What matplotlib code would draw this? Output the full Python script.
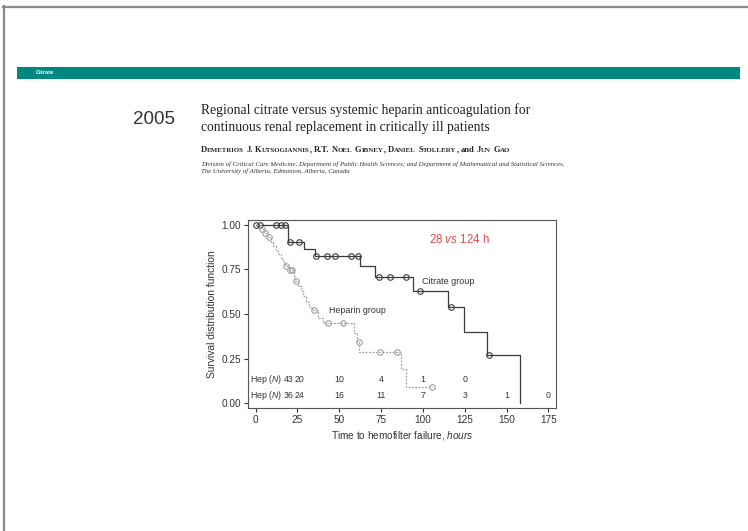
import numpy as np
import matplotlib
matplotlib.use("Agg")
import matplotlib.pyplot as plt
from matplotlib.lines import Line2D
from matplotlib.patches import Rectangle

# ---------------- data ----------------
cit_times = [0, 19.5, 29, 35.5, 62.6, 71.2, 94.3, 115.2, 124.8, 138.2, 158.1]
cit_surv = [1.0, 0.903, 0.865, 0.826, 0.77, 0.708, 0.631, 0.541, 0.40, 0.27, 0.0]
cit_censor = [0.0, 2.5, 12, 15, 17.5, 20.7, 25.9, 36, 42.8, 47.2, 56.8, 61.4,
              73.7, 80.3, 90.1, 98.3, 116.6, 139.7]

hep_times = [0, 3, 5, 7, 9, 10.5, 12, 13.5, 15, 16.5, 17.5, 20, 23, 23.5, 25.5,
             27, 28.5, 30, 32, 33.5, 37, 40, 58.5, 60.5, 62, 87, 90]
hep_surv = [1.0, 0.977, 0.953, 0.930, 0.907, 0.884, 0.860, 0.837, 0.814, 0.791,
            0.768, 0.745, 0.716, 0.687, 0.658, 0.628, 0.599, 0.570, 0.541,
            0.522, 0.48, 0.448, 0.395, 0.344, 0.287, 0.19, 0.092]
hep_censor = [4, 5.6, 8, 18, 20.5, 22, 24, 35, 43, 52, 61.6, 74.3, 84.7, 105.2]
hep_end = 105.2

risk_x_row1 = [19.8, 26.3, 50, 75, 100, 125]
risk_row1 = ["43", "20", "10", "4", "1", "0"]
risk_x_row2 = [19.8, 26.3, 50, 75, 100, 125, 150, 175]
risk_row2 = ["36", "24", "16", "11", "7", "3", "1", "0"]

xticks = [0, 25, 50, 75, 100, 125, 150, 175]
yticks = [0.0, 0.25, 0.5, 0.75, 1.0]

authors = "Demetrios J. Kutsogiannis, R.T. Noel Gibney, Daniel Stollery, and Jun Gao"

# ---------------- figure ----------------
W, H = 748, 531
plt.rcParams['font.family'] = ['Liberation Sans', 'DejaVu Sans']
plt.rcParams['mathtext.fontset'] = 'custom'
plt.rcParams['mathtext.rm'] = 'Liberation Sans'
plt.rcParams['mathtext.it'] = 'Liberation Sans:italic'

fig = plt.figure(figsize=(W / 100, H / 100), dpi=100)
fig.patch.set_facecolor('white')
renderer = fig.canvas.get_renderer()


def fx(px):
    return px / W


def fy(py):
    return 1 - py / H


# slide borders
fig.add_artist(Line2D([fx(3), fx(748)], [fy(6.5), fy(6.5)], color='#8a8a8a', lw=1.6))
fig.add_artist(Line2D([fx(4), fx(4)], [fy(6), fy(531)], color='#8a8a8a', lw=1.6))
# teal band
fig.add_artist(Rectangle((fx(17), fy(79)), fx(740) - fx(17), fy(67) - fy(79),
                         transform=fig.transFigure, color='#00877f', lw=0))
fig.text(fx(36), fy(73), "Citrate", color='white', fontsize=4.1, fontweight='bold',
         va='center', ha='left')

# header
fig.text(fx(133), fy(119), "2005", fontsize=13.5, color='#333333', va='center', ha='left')
fig.text(fx(201), fy(110), "Regional citrate versus systemic heparin anticoagulation for",
         family='Liberation Serif', fontsize=9.85, color='#222222', va='center', ha='left')
fig.text(fx(201), fy(127), "continuous renal replacement in critically ill patients",
         family='Liberation Serif', fontsize=9.85, color='#222222', va='center', ha='left')


def small_caps(text, x0, ybase, big, small, pad, **kw):
    """Draw text in small caps (bold serif) run by run, measuring widths."""
    x = x0
    words = text.split(' ')
    space_t = fig.text(0, 0, "n n", fontsize=big, **kw)
    nn_t = fig.text(0, 0, "nn", fontsize=big, **kw)
    space_w = (space_t.get_window_extent(renderer).width
               - nn_t.get_window_extent(renderer).width)
    space_t.remove()
    nn_t.remove()
    for word in words:
        runs = []
        if word == 'and':
            runs = [(word, big)]
        else:
            for ch in word:
                size = small if ch.islower() else big
                c = ch.upper()
                if runs and runs[-1][1] == size:
                    runs[-1] = (runs[-1][0] + c, size)
                else:
                    runs.append((c, size))
        for s, size in runs:
            t = fig.text(fx(x), fy(ybase), s, fontsize=size, va='baseline',
                         ha='left', **kw)
            x += t.get_window_extent(renderer).width + pad
        x += space_w
    return x


small_caps(authors, 201, 151.5, 6.1, 4.95, 0.15, family='Liberation Serif',
           fontweight='bold', color='#222222')

fig.text(fx(201), fy(164),
         "Division of Critical Care Medicine, Department of Public Health Sciences; and "
         "Department of Mathematical and Statistical Sciences,",
         family='Liberation Serif', fontsize=4.9, style='italic', color='#333333',
         va='center', ha='left')
fig.text(fx(201), fy(171), "The University of Alberta, Edmonton, Alberta, Canada",
         family='Liberation Serif', fontsize=4.9, style='italic', color='#333333',
         va='center', ha='left')

# ---------------- chart ----------------
ax = fig.add_axes([fx(248), fy(408), fx(556) - fx(248), fy(220) - fy(408)])
ax.set_xlim(-4.6, 179.6)
ax.set_ylim(-0.028, 1.028)

cit_color = '#3a3a3a'
hep_color = '#a0a0a0'


def surv_at(times, surv, t):
    i = np.searchsorted(times, t, side='right') - 1
    return surv[i]


# citrate
ax.step(cit_times, cit_surv, where='post', color=cit_color, lw=0.9)
ax.plot(cit_censor, [surv_at(cit_times, cit_surv, t) for t in cit_censor], 'o',
        mfc='none', mec=cit_color, ms=4, mew=0.8)

# heparin
hx = list(hep_times) + [hep_end]
hy = list(hep_surv) + [hep_surv[-1]]
ax.step(hx, hy, where='post', color=hep_color, lw=0.9, ls=(0, (1.5, 1.2)))
ax.plot(hep_censor, [surv_at(hep_times, hep_surv, t) for t in hep_censor], 'o',
        mfc='none', mec=hep_color, ms=4, mew=0.8)

ax.set_xticks(xticks)
ax.set_xticklabels([str(v) for v in xticks])
ax.set_yticks(yticks)
ax.set_yticklabels([f"{v:.2f}" for v in yticks])
ax.tick_params(labelsize=7.2, colors='#333333', length=3, width=0.8, pad=2)
for s in ax.spines.values():
    s.set_color('#555555')
    s.set_linewidth(0.8)

ax.set_xlabel(r"Time to hemofilter failure, $\mathit{hours}$", fontsize=7.2,
              color='#333333', labelpad=3)
ax.set_ylabel("Survival distribution function", fontsize=7.4, color='#333333',
              labelpad=3)

ax.text(121.9, 0.918, r"28 $\mathit{vs}$ 124 h", color='#e5484d', fontsize=8.3,
        ha='center', va='center')
ax.text(99.3, 0.685, "Citrate group", fontsize=6.5, color='#333333', ha='left', va='center')
ax.text(44, 0.518, "Heparin group", fontsize=6.4, color='#333333', ha='left', va='center')

ax.text(-3.5, 0.13, r"Hep ($\mathit{N}$)", fontsize=6.3, color='#333333', ha='left', va='center')
ax.text(-3.5, 0.04, r"Hep ($\mathit{N}$)", fontsize=6.3, color='#333333', ha='left', va='center')
for x, s in zip(risk_x_row1, risk_row1):
    ax.text(x, 0.13, s, fontsize=6.3, color='#333333', ha='center', va='center')
for x, s in zip(risk_x_row2, risk_row2):
    ax.text(x, 0.04, s, fontsize=6.3, color='#333333', ha='center', va='center')

fig.savefig("out.png", dpi=100, facecolor='white')
